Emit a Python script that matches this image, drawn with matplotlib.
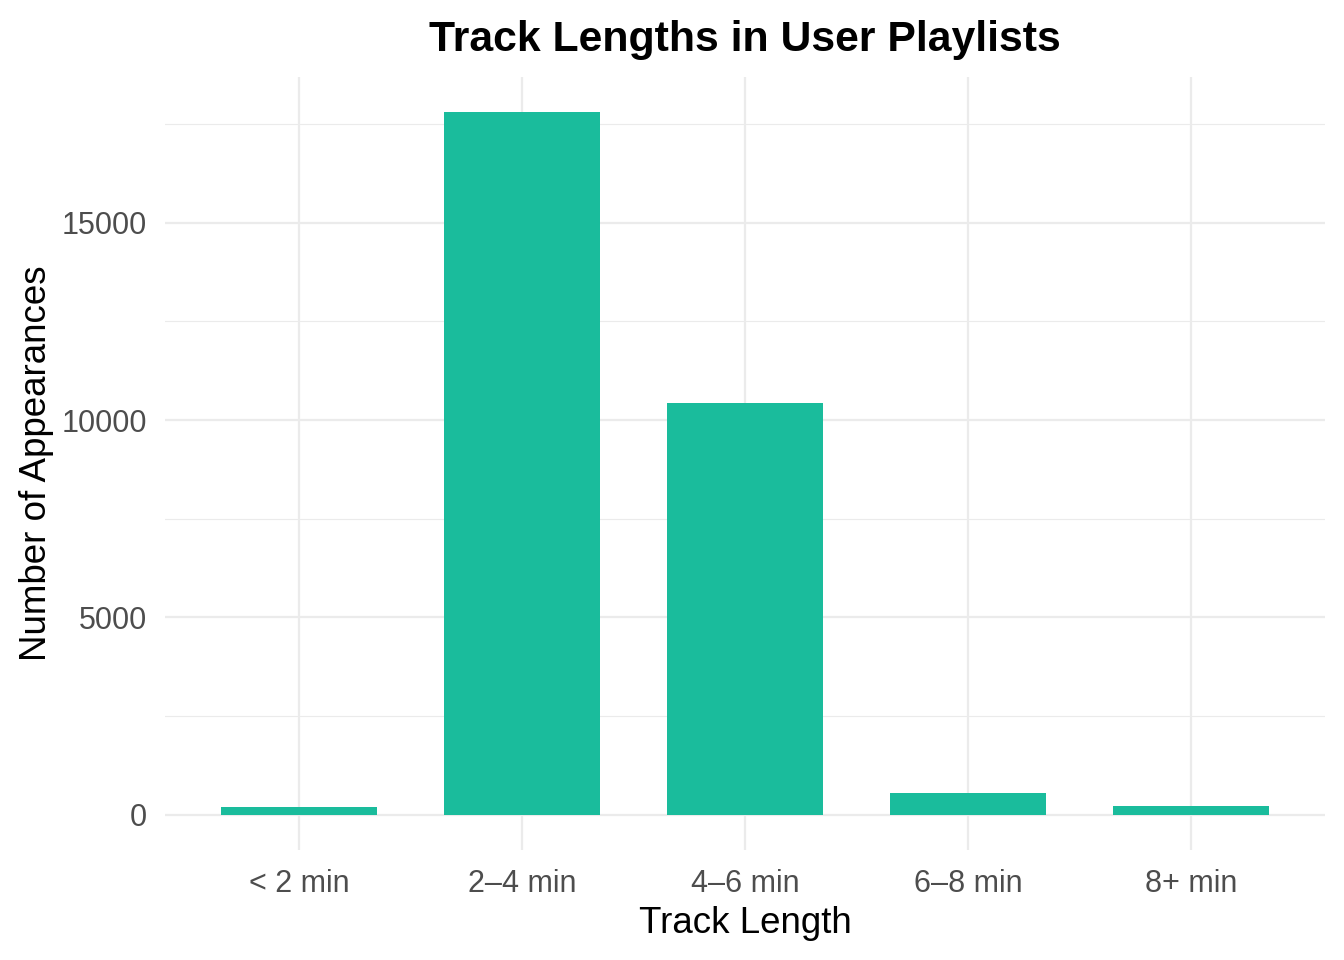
import matplotlib
matplotlib.use("Agg")
import matplotlib.pyplot as plt
from matplotlib.ticker import MultipleLocator

categories = ["< 2 min", "2–4 min", "4–6 min", "6–8 min", "8+ min"]
counts = [195, 17800, 10420, 550, 220]

plt.rcParams['font.family'] = ['Liberation Sans', 'DejaVu Sans']

fig = plt.figure(figsize=(13.44, 9.6), dpi=100)
ax = fig.add_axes([165/1344, 110/960, 1160/1344, 773/960])

x = list(range(1, len(categories) + 1))
ax.bar(x, counts, width=0.7, color="#1ABC9C", zorder=3)

ymax = max(counts)
ax.set_xlim(0.4, len(categories) + 0.6)
ax.set_ylim(-0.05 * ymax, 1.05 * ymax)

ax.set_xticks(x)
ax.set_xticklabels(categories)
ax.yaxis.set_minor_locator(MultipleLocator(2500))
ax.set_yticks([0, 5000, 10000, 15000])

ax.grid(which='major', color='#EBEBEB', linewidth=1.6, zorder=0)
ax.grid(which='minor', axis='y', color='#EBEBEB', linewidth=0.8, zorder=0)
ax.tick_params(which='both', length=0, labelsize=22, labelcolor='#4D4D4D')
ax.tick_params(axis='x', pad=14)
ax.tick_params(axis='y', pad=13)
for s in ax.spines.values():
    s.set_visible(False)
ax.set_axisbelow(True)

ax.set_xlabel("Track Length", fontsize=26.5, color='black', labelpad=5)
ax.set_ylabel("Number of Appearances", fontsize=26.5, color='black', labelpad=5)
ax.set_title("Track Lengths in User Playlists", fontsize=30.8, fontweight='bold', pad=19)

fig.savefig("out.png", dpi=100, facecolor='white')
